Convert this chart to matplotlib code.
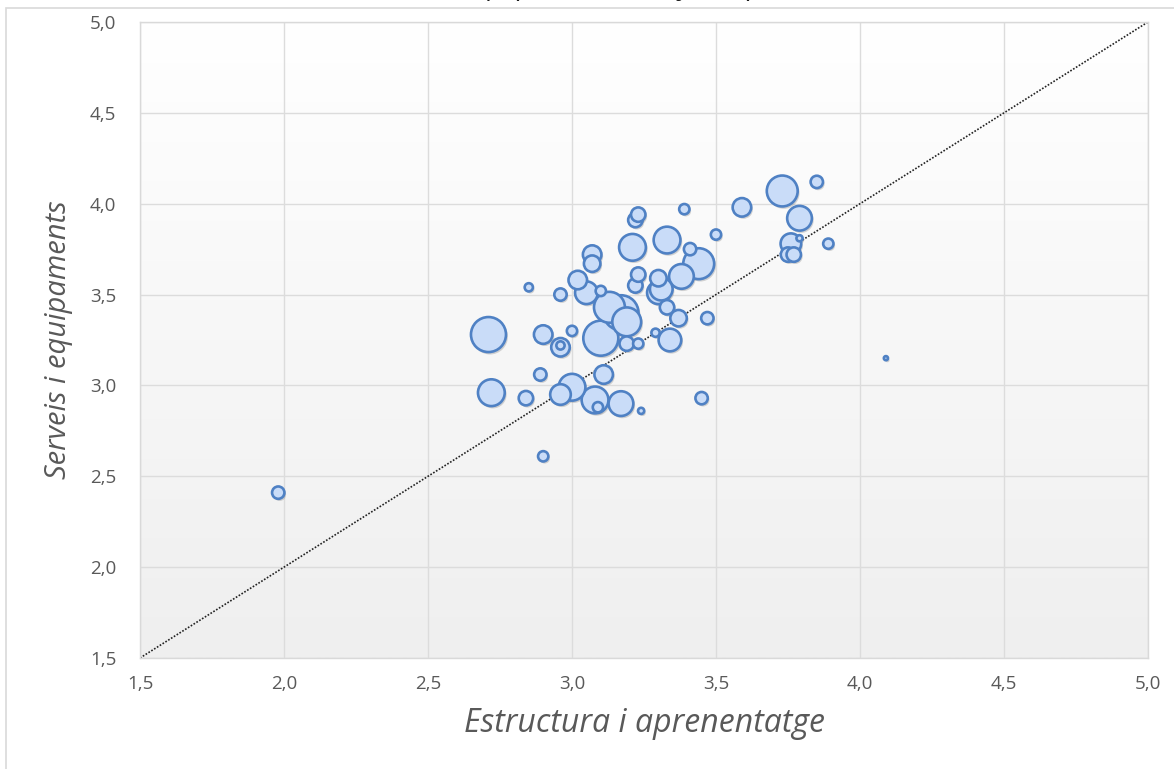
import matplotlib
matplotlib.use("Agg")
import matplotlib.pyplot as plt
import matplotlib.patches as patches
import matplotlib.transforms as mtransforms
import numpy as np

# Estructura i aprenentatge (x), Serveis i equipaments (y), mida de la bombolla
estructura = [1.98, 2.71, 2.72, 2.84, 2.85, 2.90, 2.89, 2.90, 2.96, 2.96,
              2.96, 2.96, 3.00, 3.00, 3.02, 3.05, 3.07, 3.07, 3.10, 3.08,
              3.09, 3.11, 3.10, 3.13, 3.17, 3.19, 3.17, 3.19, 3.23, 3.21,
              3.22, 3.23, 3.23, 3.22, 3.24, 3.29, 3.30, 3.31, 3.30, 3.33,
              3.33, 3.34, 3.37, 3.38, 3.39, 3.41, 3.44, 3.45, 3.47, 3.50,
              3.59, 3.73, 3.85, 3.79, 3.76, 3.75, 3.77, 3.79, 3.89, 4.09]
serveis = [2.41, 3.28, 2.96, 2.93, 3.54, 3.28, 3.06, 2.61, 3.50, 3.21,
           3.22, 2.95, 3.30, 2.99, 3.58, 3.51, 3.72, 3.67, 3.52, 2.92,
           2.88, 3.06, 3.26, 3.43, 3.40, 3.35, 2.90, 3.23, 3.23, 3.76,
           3.55, 3.61, 3.94, 3.91, 2.86, 3.29, 3.59, 3.53, 3.51, 3.43,
           3.80, 3.25, 3.37, 3.60, 3.97, 3.75, 3.67, 2.93, 3.37, 3.83,
           3.98, 4.07, 4.12, 3.92, 3.78, 3.72, 3.72, 3.81, 3.78, 3.15]
mida = [36, 289, 169, 49, 16, 81, 36, 25, 36, 81,
        16, 100, 25, 169, 81, 121, 81, 64, 25, 169,
        25, 81, 289, 225, 289, 196, 144, 49, 25, 169,
        49, 49, 49, 49, 9, 16, 64, 121, 121, 49,
        169, 121, 64, 144, 25, 36, 225, 36, 36, 25,
        81, 225, 36, 144, 100, 49, 49, 9, 25, 4]

titol = "Serveis i equipaments (mitjana) per titulació"
xlabel = "Estructura i aprenentatge"
ylabel = "Serveis i equipaments"
ticks = [1.5, 2.0, 2.5, 3.0, 3.5, 4.0, 4.5, 5.0]
tick_labels = [f"{t:.1f}".replace(".", ",") for t in ticks]

plt.rcParams['font.family'] = ['Open Sans', 'DejaVu Sans']

fig = plt.figure(figsize=(11.74, 7.69), dpi=100)
fig.patch.set_facecolor("white")
ax = fig.add_axes([140 / 1174, 1 - 658 / 769, 1008 / 1174, 636 / 769])

# outer chart frame (cut off on the right and bottom)
frame = patches.Rectangle((6 / 1174, -0.05), 1.1, 1 - 8 / 769 + 0.05,
                          transform=fig.transFigure, fill=False,
                          edgecolor="#d9d9d9", linewidth=1.2)
fig.patches.append(frame)

# title, almost entirely above the visible area (only descenders show)
fig.text(0.53, 1 + 5 / 769, titol, ha="center", va="baseline",
         fontsize=19, color="#1a1a1a")

# gradient background of the plot area
grad = np.linspace(0, 1, 256).reshape(-1, 1)
ax.imshow(grad, extent=[1.5, 5.0, 1.5, 5.0], aspect="auto", origin="upper",
          cmap=matplotlib.colors.LinearSegmentedColormap.from_list(
              "bg", ["#ffffff", "#efefef"]), zorder=0)

ax.set_xlim(1.5, 5.0)
ax.set_ylim(1.5, 5.0)
ax.set_xticks(ticks)
ax.set_yticks(ticks)
ax.set_xticklabels(tick_labels)
ax.set_yticklabels(tick_labels)
ax.tick_params(length=0, labelsize=13.5, labelcolor="#595959")
ax.tick_params(axis="x", pad=12)
ax.tick_params(axis="y", pad=17)
ax.grid(True, color="#dcdcdc", linewidth=1, zorder=1)
ax.set_axisbelow(True)
for sp in ax.spines.values():
    sp.set_color("#d9d9d9")
    sp.set_linewidth(1)

ax.set_xlabel(xlabel, fontsize=23, style="italic", color="#595959", labelpad=10)
ax.set_ylabel(ylabel, fontsize=21, style="italic", color="#595959", labelpad=12)

# diagonal reference line
ax.plot([1.5, 5.0], [1.5, 5.0], linestyle=(0, (1, 1)), color="#222222",
        linewidth=1.2, zorder=2)

# bubbles, largest first
order = np.argsort(mida)[::-1]
xs = np.array(estructura)[order]
ys = np.array(serveis)[order]
ss = np.array(mida)[order] * 2.2

shadow = mtransforms.offset_copy(ax.transData, fig=fig, x=1.5, y=-2, units="dots")
ax.scatter(xs, ys, s=ss * 1.05, color="#888888", alpha=0.35,
           linewidths=0, transform=shadow, zorder=3)
ax.scatter(xs, ys, s=ss, facecolor="#c9dcf8", edgecolor="#4f81c4",
           linewidths=1.9, zorder=4)

fig.savefig("out.png", dpi=100)
